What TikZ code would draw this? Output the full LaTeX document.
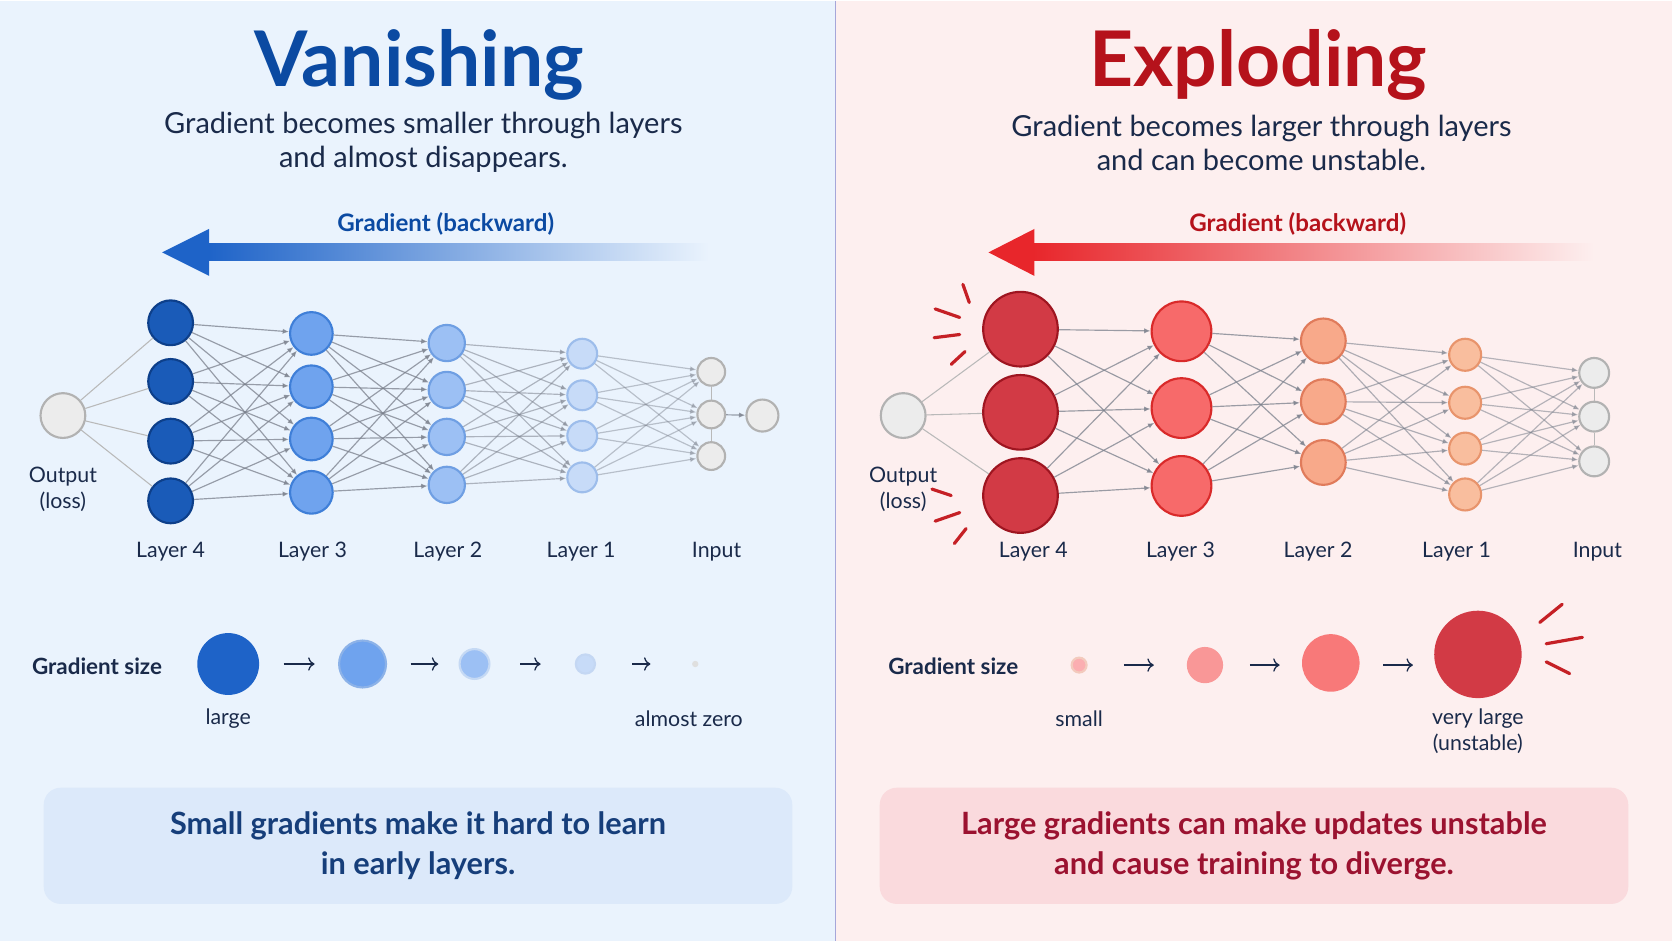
\documentclass[tikz,border=0pt]{standalone}
\usepackage{fontspec}
\setmainfont{Lato}
\usetikzlibrary{arrows.meta,positioning}
\definecolor{vbg}{HTML}{EAF3FD}
\definecolor{ebg}{HTML}{FDEFEF}
\definecolor{vtitle}{HTML}{0B4AA2}
\definecolor{etitle}{HTML}{B5121B}
\definecolor{navy}{HTML}{1A2A4A}
\definecolor{vblue}{HTML}{1E63C8}
\definecolor{ered}{HTML}{E8262B}
\definecolor{linkgrey}{HTML}{7A808C}
\definecolor{vfour}{HTML}{1A5BB8}\definecolor{vfourd}{HTML}{0D3F8A}
\definecolor{vthree}{HTML}{6FA3EE}\definecolor{vthreed}{HTML}{3F7FD8}
\definecolor{vtwo}{HTML}{9CC0F4}\definecolor{vtwod}{HTML}{6F9FE3}
\definecolor{vone}{HTML}{C7DBF8}\definecolor{voned}{HTML}{9DBDEB}
\definecolor{efour}{HTML}{D23A45}\definecolor{efourd}{HTML}{9E1520}
\definecolor{ethree}{HTML}{F76A6A}\definecolor{ethreed}{HTML}{D92A2A}
\definecolor{etwo}{HTML}{F8A98A}\definecolor{etwod}{HTML}{E07B5B}
\definecolor{eone}{HTML}{F9BE9E}\definecolor{eoned}{HTML}{E8946C}
\definecolor{vbox}{HTML}{DCE9FA}\definecolor{ebox}{HTML}{FADADD}
\definecolor{vboxtext}{HTML}{163E7A}\definecolor{eboxtext}{HTML}{9B1230}
\tikzset{
	neuron/.style = {circle, inner sep=0pt, line width=1pt},
	grey neuron/.style = {neuron, fill=gray!15, draw=gray!60},
	link/.style = {draw=linkgrey, line width=0.55pt, opacity=0.75, -{Latex[length=3pt,width=2.5pt]}},
	faint/.style = {draw=gray!55, line width=0.5pt},
	lbl/.style = {font=\fontsize{10}{12}\selectfont, text=navy},
	size arrow/.style = {-{To[length=3pt]}, line width=0.6pt, draw=navy},
	burst/.style = {draw=ered!85!black, line width=1.5pt, line cap=round},
}
\begin{document}
\begin{tikzpicture}[x=0.5pt,y=-0.5pt]
	% Panels
	\fill[vbg] (0,0) rectangle (783,882);
	\fill[ebg] (784,0) rectangle (1568,882);
	\draw[gray!60!blue!50, line width=0.7pt] (783.5,0) -- (783.5,882);
	\useasboundingbox (0,0) rectangle (1568,882);

	% Headings
	\node[text=vtitle, font=\fontsize{36}{40}\bfseries] (vtitle) at (393,60) {Vanishing};
	\node[text=navy, align=center, font=\fontsize{13.6}{16}\selectfont] (vsub) at (397,133) {Gradient becomes smaller through layers\\and almost disappears.};
	\node[text=etitle, font=\fontsize{36}{40}\bfseries] (etitle) at (1180,60) {Exploding};
	\node[text=navy, align=center, font=\fontsize{13.6}{16}\selectfont] (esub) at (1183,133) {Gradient becomes larger through layers\\and can become unstable.};

	% Backward arrows
	\node[text=vtitle, font=\fontsize{11.3}{13}\bfseries] (vback) at (418,209) {Gradient (backward)};
	\shade[left color=vblue, right color=vbg] (194,228) rectangle (665,244);
	\fill[vblue] (152,236) -- (196,214) -- (196,258) -- cycle;
	\node[text=etitle, font=\fontsize{11.3}{13}\bfseries] (eback) at (1217,209) {Gradient (backward)};
	\shade[left color=ered, right color=ebg] (968,228) rectangle (1495,244);
	\fill[ered] (927,236) -- (970,214) -- (970,258) -- cycle;

	% Vanishing network
	\node[grey neuron, minimum size=21pt] (vout) at (59,389) {};
	\foreach \y [count=\i] in {302,357,413,469}
		\node[neuron, fill=vfour, draw=vfourd, minimum size=21pt] (v4-\i) at (160,\y) {};
	\foreach \y [count=\i] in {312,362,411,461}
		\node[neuron, fill=vthree, draw=vthreed, minimum size=20pt] (v3-\i) at (292,\y) {};
	\foreach \y [count=\i] in {321,365,409,454}
		\node[neuron, fill=vtwo, draw=vtwod, minimum size=17pt] (v2-\i) at (419,\y) {};
	\foreach \y [count=\i] in {331,370,408,447}
		\node[neuron, fill=vone, draw=voned, minimum size=14pt] (v1-\i) at (546,\y) {};
	\foreach \y [count=\i] in {348,388,427}
		\node[grey neuron, minimum size=13pt] (vin-\i) at (667,\y) {};
	\node[grey neuron, minimum size=15pt] (vx) at (715,389) {};
	\foreach \i in {1,...,4} {
		\draw[faint] (vout) -- (v4-\i);
		\foreach \j in {1,...,4} {
			\draw[link] (v4-\i) -- (v3-\j);
			\draw[link] (v3-\i) -- (v2-\j);
			\draw[link, opacity=0.55] (v2-\i) -- (v1-\j);
		}
		\foreach \j in {1,2,3}
			\draw[link, opacity=0.45] (v1-\i) -- (vin-\j);
	}
	\draw[faint] (vin-1) -- (vin-2) -- (vin-3);
	\draw[link] (vin-2) -- (vx);
	\node[lbl, align=center] (voutl) at (59,458) {Output\\(loss)};
	\foreach \x/\t in {160/Layer 4,293/Layer 3,420/Layer 2,545/Layer 1,672/Input}
		\node[lbl] at (\x,517) {\t};

	% Exploding network
	\node[grey neuron, minimum size=21pt] (eout) at (847,389) {};
	\foreach \y [count=\i] in {308,386,464}
		\node[neuron, fill=efour, draw=efourd, minimum size=35pt] (e4-\i) at (957,\y) {};
	\foreach \y [count=\i] in {310,382,455}
		\node[neuron, fill=ethree, draw=ethreed, minimum size=28pt] (e3-\i) at (1108,\y) {};
	\foreach \y [count=\i] in {319,376,433}
		\node[neuron, fill=etwo, draw=etwod, minimum size=21pt] (e2-\i) at (1241,\y) {};
	\foreach \y [count=\i] in {332,377,420,463}
		\node[neuron, fill=eone, draw=eoned, minimum size=15pt] (e1-\i) at (1374,\y) {};
	\foreach \y [count=\i] in {349,390,432}
		\node[grey neuron, minimum size=14pt] (ein-\i) at (1495,\y) {};
	\foreach \i in {1,2,3} {
		\draw[faint] (eout) -- (e4-\i);
		\foreach \j in {1,2,3} {
			\draw[link] (e4-\i) -- (e3-\j);
			\draw[link] (e3-\i) -- (e2-\j);
		}
		\foreach \j in {1,...,4}
			\draw[link, opacity=0.6] (e2-\i) -- (e1-\j);
	}
	\foreach \i in {1,...,4}
		\foreach \j in {1,2,3}
			\draw[link, opacity=0.55] (e1-\i) -- (ein-\j);
	\draw[faint] (ein-1) -- (ein-2) -- (ein-3);
	\node[lbl, align=center] (eoutl) at (847,458) {Output\\(loss)};
	\foreach \x/\t in {969/Layer 4,1107/Layer 3,1236/Layer 2,1366/Layer 1,1498/Input}
		\node[lbl] at (\x,517) {\t};

	% Bursts
	\draw[burst] (903,266) -- (909,283);
	\draw[burst] (877,289) -- (900,297);
	\draw[burst] (876,316) -- (900,313);
	\draw[burst] (892,341) -- (905,329);
	\draw[burst] (874,458) -- (892,464);
	\draw[burst] (877,488) -- (900,480);
	\draw[burst] (895,509) -- (906,495);
	\draw[burst] (1444,583) -- (1465,566);
	\draw[burst] (1450,603) -- (1484,597);
	\draw[burst] (1450,620) -- (1472,631);

	% Gradient size rows
	\node[lbl, font=\fontsize{10.5}{12}\bfseries] (vsize) at (91,624) {Gradient size};
	\node[neuron, fill=vblue, minimum size=29pt] (vg1) at (214,622) {};
	\node[neuron, fill=vthree, draw=vthreed!60, minimum size=22pt] (vg2) at (340,622) {};
	\node[neuron, fill=vtwo, draw=vtwod!40, minimum size=14pt] (vg3) at (445,622) {};
	\node[neuron, fill=vone, draw=voned!60, minimum size=9pt] (vg4) at (549,622) {};
	\node[neuron, fill=gray!25, minimum size=3pt] (vg5) at (652,622) {};
	\draw[size arrow] (266,622) -- (295,622);
	\draw[size arrow] (385,622) -- (411,622);
	\draw[size arrow] (488,622) -- (507,622);
	\draw[size arrow] (593,622) -- (610,622);
	\node[lbl] at (214,673) {large};
	\node[lbl] at (646,673) {almost zero};

	\node[lbl, font=\fontsize{10.5}{12}\bfseries] (esize) at (894,624) {Gradient size};
	\node[neuron, fill=ebox!80!red, draw=etwod!40, minimum size=7pt] (eg1) at (1012,623) {};
	\node[neuron, fill=ethree!70, minimum size=17pt] (eg2) at (1130,623) {};
	\node[neuron, fill=ethree!90, minimum size=27pt] (eg3) at (1248,621) {};
	\node[neuron, fill=efour, minimum size=41pt] (eg4) at (1386,613) {};
	\draw[size arrow] (1054,623) -- (1082,623);
	\draw[size arrow] (1172,623) -- (1200,623);
	\draw[size arrow] (1297,623) -- (1325,623);
	\node[lbl] at (1012,673) {small};
	\node[lbl, align=center] at (1386,685) {very large\\(unstable)};

	% Takeaway boxes
	\node[fill=vbox, rounded corners=8pt, minimum width=351pt, minimum height=54.5pt,
		align=center, text=vboxtext, font=\fontsize{14.4}{18.5}\bfseries] (vnote) at (392,792.5)
		{Small gradients make it hard to learn\\in early layers.};
	\node[fill=ebox, rounded corners=8pt, minimum width=351pt, minimum height=54.5pt,
		align=center, text=eboxtext, font=\fontsize{14.4}{18.5}\bfseries] (enote) at (1176,792.5)
		{Large gradients can make updates unstable\\and cause training to diverge.};
\end{tikzpicture}
\end{document}
